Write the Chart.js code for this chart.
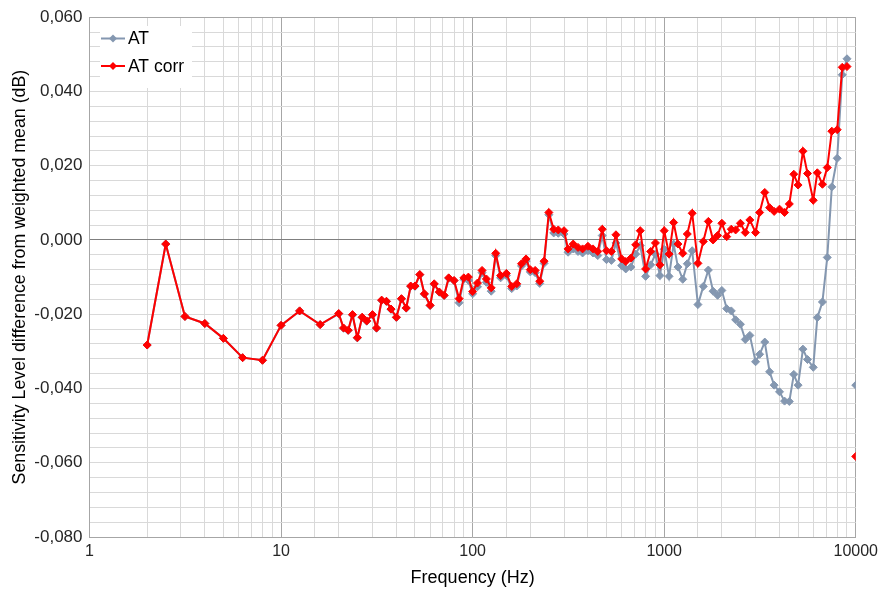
<!DOCTYPE html>
<html>
<head>
<meta charset="utf-8">
<title>Sensitivity level difference</title>
<script src="https://cdn.jsdelivr.net/npm/chart.js@4.4.1/dist/chart.umd.min.js"></script>
<style>
  html, body { margin: 0; padding: 0; background: #fff; }
  #chart { display: block; }
</style>
</head>
<body>
<canvas id="chart" width="883" height="590"></canvas>
<script>
// 1/3-octave points below 20 Hz, then 1/12-octave (R40) points up to 10 kHz
const frequencies = [
  2, 2.5, 3.15, 4, 5, 6.3, 8, 10, 12.5, 16,
  20, 21.2, 22.4, 23.6, 25, 26.5, 28, 30, 31.5, 33.5, 35.5, 37.5,
  40, 42.5, 45, 47.5, 50, 53, 56, 60, 63, 67, 71, 75, 80, 85, 90, 95,
  100, 106, 112, 118, 125, 132, 140, 150, 160, 170, 180, 190,
  200, 212, 224, 236, 250, 265, 280, 300, 315, 335, 355, 375,
  400, 425, 450, 475, 500, 530, 560, 600, 630, 670, 710, 750, 800, 850, 900, 950,
  1000, 1060, 1120, 1180, 1250, 1320, 1400, 1500, 1600, 1700, 1800, 1900,
  2000, 2120, 2240, 2360, 2500, 2650, 2800, 3000, 3150, 3350, 3550, 3750,
  4000, 4250, 4500, 4750, 5000, 5300, 5600, 6000, 6300, 6700, 7100, 7500,
  8000, 8500, 9000, 9500, 10000
];

// dB difference, uncorrected
const at = [
  -0.0283, -0.0011, -0.0206, -0.0225, -0.0265, -0.0317, -0.0324, -0.0230, -0.0191, -0.0228,
  -0.0199, -0.0238, -0.0244, -0.0202, -0.0264, -0.0209, -0.0219, -0.0202, -0.0238, -0.0163, -0.0166, -0.0187,
  -0.0209, -0.0159, -0.0184, -0.0125, -0.0125, -0.0094, -0.0146, -0.0177, -0.0119, -0.0141, -0.0150, -0.0103, -0.0110, -0.0169, -0.0106, -0.0109,
  -0.0145, -0.0126, -0.0088, -0.0114, -0.0138, -0.0042, -0.0102, -0.0096, -0.0131, -0.0124, -0.0070, -0.0057,
  -0.0086, -0.0088, -0.0117, -0.0063, 0.0068, 0.0019, 0.0018, 0.0016, -0.0033, -0.0024, -0.0031, -0.0035,
  -0.0029, -0.0035, -0.0042, 0.0012, -0.0053, -0.0055, -0.0008, -0.0069, -0.0078, -0.0073, -0.0038, -0.0015, -0.0098, -0.0067, -0.0038, -0.0096,
  -0.0025, -0.0098, -0.0011, -0.0073, -0.0106, -0.0064, -0.0029, -0.0174, -0.0125, -0.0081, -0.0138, -0.0149,
  -0.0136, -0.0185, -0.0191, -0.0215, -0.0227, -0.0268, -0.0257, -0.0328, -0.0308, -0.0275, -0.0355, -0.0391,
  -0.0409, -0.0434, -0.0435, -0.0362, -0.0391, -0.0294, -0.0322, -0.0343, -0.0209, -0.0167, -0.0047, 0.0143,
  0.0220, 0.0445, 0.0488, null, -0.0391
];

// dB difference, corrected
const atCorr = [
  -0.0283, -0.0011, -0.0206, -0.0225, -0.0265, -0.0317, -0.0324, -0.0230, -0.0191, -0.0228,
  -0.0198, -0.0237, -0.0243, -0.0201, -0.0263, -0.0208, -0.0218, -0.0201, -0.0237, -0.0162, -0.0165, -0.0186,
  -0.0208, -0.0158, -0.0183, -0.0124, -0.0124, -0.0093, -0.0145, -0.0176, -0.0118, -0.0140, -0.0149, -0.0102, -0.0109, -0.0158, -0.0102, -0.0100,
  -0.0139, -0.0116, -0.0082, -0.0105, -0.0129, -0.0036, -0.0096, -0.0090, -0.0125, -0.0118, -0.0064, -0.0051,
  -0.0080, -0.0082, -0.0111, -0.0057, 0.0074, 0.0029, 0.0027, 0.0025, -0.0024, -0.0011, -0.0020, -0.0024,
  -0.0017, -0.0024, -0.0031, 0.0029, -0.0029, -0.0031, 0.0014, -0.0051, -0.0058, -0.0049, -0.0013, 0.0025, -0.0078, -0.0031, -0.0008, -0.0067,
  0.0025, -0.0038, 0.0047, -0.0011, -0.0036, 0.0016, 0.0072, -0.0063, -0.0004, 0.0050, 0.0000, 0.0012,
  0.0045, 0.0009, 0.0029, 0.0027, 0.0045, 0.0020, 0.0054, 0.0020, 0.0074, 0.0128, 0.0087, 0.0077,
  0.0083, 0.0074, 0.0097, 0.0177, 0.0148, 0.0239, 0.0179, 0.0107, 0.0181, 0.0150, 0.0195, 0.0293,
  0.0297, 0.0465, 0.0467, null, -0.0583
];

const seriesNames = ['AT', 'AT corr'];
const seriesColors = ['#8497b0', '#ff0000'];

const FONT = "'Liberation Sans', Arial, sans-serif";

function toPoints(values) {
  return frequencies.map((f, i) => ({ x: f, y: values[i] }));
}

function isDecade(v) {
  const l = Math.log10(v);
  return Math.abs(l - Math.round(l)) < 1e-9;
}

// Excel-style legend box sitting inside the plot, top left
const insideLegend = {
  id: 'insideLegend',
  afterDraw(chart) {
    const ctx = chart.ctx;
    ctx.save();
    ctx.fillStyle = '#fff';
    ctx.fillRect(100, 26, 92, 62);
    seriesNames.forEach((name, i) => {
      const y = 38.5 + i * 27.5;
      ctx.strokeStyle = seriesColors[i];
      ctx.lineWidth = 2;
      ctx.beginPath();
      ctx.moveTo(101, y);
      ctx.lineTo(125, y);
      ctx.stroke();
      ctx.fillStyle = seriesColors[i];
      ctx.beginPath();
      ctx.moveTo(113, y - 4);
      ctx.lineTo(117, y);
      ctx.lineTo(113, y + 4);
      ctx.lineTo(109, y);
      ctx.closePath();
      ctx.fill();
      ctx.fillStyle = '#000';
      ctx.font = '17.5px ' + FONT;
      ctx.textBaseline = 'middle';
      ctx.fillText(name, 128, y + 1);
    });
    ctx.restore();
  }
};

new Chart(document.getElementById('chart'), {
  type: 'line',
  data: {
    datasets: [
      {
        label: seriesNames[0],
        data: toPoints(at),
        borderColor: seriesColors[0],
        backgroundColor: seriesColors[0],
        borderWidth: 2,
        pointStyle: 'rectRot',
        pointRadius: 4,
        pointBorderWidth: 1,
        order: 1
      },
      {
        label: seriesNames[1],
        data: toPoints(atCorr),
        borderColor: seriesColors[1],
        backgroundColor: seriesColors[1],
        borderWidth: 2,
        pointStyle: 'rectRot',
        pointRadius: 4,
        pointBorderWidth: 1,
        order: 0
      }
    ]
  },
  options: {
    responsive: false,
    animation: false,
    layout: { padding: { left: 0, right: 24, top: 15, bottom: 0 } },
    plugins: {
      legend: { display: false },
      tooltip: { enabled: false }
    },
    scales: {
      x: {
        type: 'logarithmic',
        min: 1,
        max: 10000,
        afterFit: (scale) => { scale.height = 53; },
        grid: {
          drawTicks: false,
          color: (c) => (c.tick && isDecade(c.tick.value)) ? '#a6a6a6' : '#d9d9d9'
        },
        border: { color: '#a6a6a6' },
        ticks: {
          autoSkip: false,
          maxRotation: 0,
          padding: 5,
          color: '#262626',
          font: { family: FONT, size: 16 },
          callback: (v) => isDecade(v) ? String(v) : ''
        },
        title: {
          display: true,
          text: 'Frequency (Hz)',
          color: '#000',
          font: { family: FONT, size: 18 },
          padding: { top: 0, bottom: 1 }
        }
      },
      y: {
        type: 'linear',
        min: -0.08,
        max: 0.06,
        afterFit: (scale) => { scale.width = 89.5; },
        grid: {
          drawTicks: false,
          color: (c) => {
            if (!c.tick) return '#d9d9d9';
            const v = c.tick.value;
            if (Math.abs(v) < 1e-9) return '#7f7f7f';
            if (v > 0.0599) return '#a6a6a6';
            return '#d9d9d9';
          }
        },
        border: { color: '#a6a6a6' },
        ticks: {
          stepSize: 0.004,
          autoSkip: false,
          padding: 7,
          color: '#262626',
          font: { family: FONT, size: 17 },
          callback: (v) => {
            const n = Math.round(v * 1000);
            if (n % 20 !== 0) return '';
            return (n / 1000).toFixed(3).replace('.', ',');
          }
        },
        title: {
          display: true,
          text: 'Sensitivity Level difference from weighted mean (dB)',
          color: '#000',
          font: { family: FONT, size: 17.8 },
          padding: { top: 9, bottom: 0 }
        }
      }
    }
  },
  plugins: [insideLegend]
});
</script>
</body>
</html>
